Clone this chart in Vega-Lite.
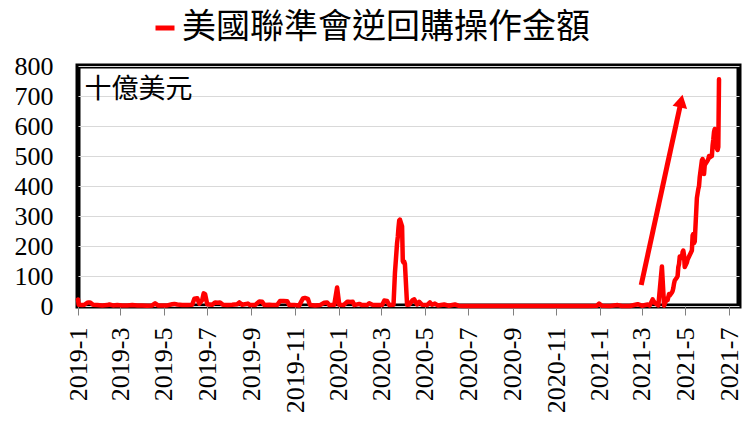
{
  "$schema": "https://vega.github.io/schema/vega-lite/v6.json",
  "width": 661,
  "height": 240,
  "autosize": {"type": "none"},
  "padding": {"left": 78, "top": 66, "right": 11, "bottom": 116},
  "background": "white",
  "config": {
    "view": {"stroke": "#000000", "strokeWidth": 5},
    "font": "Liberation Serif"
  },
  "datasets": {
    "rrp": [
      {"date": "2019-01-01", "value": 22}, {"date": "2019-01-02", "value": 4}, {"date": "2019-01-07", "value": 3}, {"date": "2019-01-10", "value": 4},
      {"date": "2019-01-14", "value": 11}, {"date": "2019-01-16", "value": 12}, {"date": "2019-01-18", "value": 12}, {"date": "2019-01-22", "value": 4},
      {"date": "2019-01-28", "value": 3}, {"date": "2019-02-04", "value": 2}, {"date": "2019-02-11", "value": 3}, {"date": "2019-02-14", "value": 5},
      {"date": "2019-02-19", "value": 2}, {"date": "2019-02-25", "value": 3}, {"date": "2019-03-04", "value": 2}, {"date": "2019-03-11", "value": 2},
      {"date": "2019-03-18", "value": 3}, {"date": "2019-03-25", "value": 2}, {"date": "2019-04-01", "value": 2}, {"date": "2019-04-08", "value": 1},
      {"date": "2019-04-15", "value": 2}, {"date": "2019-04-19", "value": 9}, {"date": "2019-04-23", "value": 2}, {"date": "2019-04-29", "value": 2},
      {"date": "2019-05-06", "value": 2}, {"date": "2019-05-13", "value": 6}, {"date": "2019-05-16", "value": 7}, {"date": "2019-05-20", "value": 5},
      {"date": "2019-05-27", "value": 3}, {"date": "2019-06-03", "value": 3}, {"date": "2019-06-10", "value": 4}, {"date": "2019-06-13", "value": 24},
      {"date": "2019-06-17", "value": 26}, {"date": "2019-06-20", "value": 8}, {"date": "2019-06-24", "value": 20}, {"date": "2019-06-26", "value": 42},
      {"date": "2019-06-28", "value": 40}, {"date": "2019-07-01", "value": 6}, {"date": "2019-07-08", "value": 4}, {"date": "2019-07-12", "value": 12},
      {"date": "2019-07-16", "value": 11}, {"date": "2019-07-19", "value": 12}, {"date": "2019-07-23", "value": 4}, {"date": "2019-07-29", "value": 3},
      {"date": "2019-08-05", "value": 4}, {"date": "2019-08-12", "value": 6}, {"date": "2019-08-15", "value": 12}, {"date": "2019-08-19", "value": 4},
      {"date": "2019-08-27", "value": 8}, {"date": "2019-08-30", "value": 3}, {"date": "2019-09-06", "value": 3}, {"date": "2019-09-12", "value": 15},
      {"date": "2019-09-16", "value": 14}, {"date": "2019-09-19", "value": 3}, {"date": "2019-09-26", "value": 4}, {"date": "2019-09-30", "value": 3},
      {"date": "2019-10-07", "value": 3}, {"date": "2019-10-11", "value": 17}, {"date": "2019-10-16", "value": 17}, {"date": "2019-10-21", "value": 16},
      {"date": "2019-10-24", "value": 3}, {"date": "2019-10-31", "value": 3}, {"date": "2019-11-07", "value": 2}, {"date": "2019-11-12", "value": 25},
      {"date": "2019-11-15", "value": 27}, {"date": "2019-11-19", "value": 24}, {"date": "2019-11-22", "value": 3}, {"date": "2019-11-29", "value": 2},
      {"date": "2019-12-06", "value": 3}, {"date": "2019-12-12", "value": 11}, {"date": "2019-12-16", "value": 12}, {"date": "2019-12-19", "value": 3},
      {"date": "2019-12-26", "value": 4}, {"date": "2019-12-30", "value": 62}, {"date": "2020-01-02", "value": 4}, {"date": "2020-01-08", "value": 3},
      {"date": "2020-01-13", "value": 14}, {"date": "2020-01-15", "value": 14}, {"date": "2020-01-17", "value": 13}, {"date": "2020-01-21", "value": 14},
      {"date": "2020-01-23", "value": 3}, {"date": "2020-01-30", "value": 7}, {"date": "2020-02-03", "value": 3}, {"date": "2020-02-10", "value": 3},
      {"date": "2020-02-13", "value": 9}, {"date": "2020-02-18", "value": 3}, {"date": "2020-02-25", "value": 3}, {"date": "2020-03-02", "value": 3},
      {"date": "2020-03-05", "value": 18}, {"date": "2020-03-09", "value": 17}, {"date": "2020-03-12", "value": 3}, {"date": "2020-03-18", "value": 4},
      {"date": "2020-03-20", "value": 110}, {"date": "2020-03-23", "value": 210}, {"date": "2020-03-24", "value": 230}, {"date": "2020-03-25", "value": 262},
      {"date": "2020-03-26", "value": 285}, {"date": "2020-03-27", "value": 288}, {"date": "2020-03-30", "value": 265}, {"date": "2020-03-31", "value": 150},
      {"date": "2020-04-01", "value": 145}, {"date": "2020-04-02", "value": 148}, {"date": "2020-04-03", "value": 140}, {"date": "2020-04-06", "value": 4},
      {"date": "2020-04-09", "value": 5}, {"date": "2020-04-14", "value": 20}, {"date": "2020-04-16", "value": 22}, {"date": "2020-04-20", "value": 5},
      {"date": "2020-04-23", "value": 14}, {"date": "2020-04-27", "value": 4}, {"date": "2020-05-04", "value": 3}, {"date": "2020-05-08", "value": 12},
      {"date": "2020-05-11", "value": 4}, {"date": "2020-05-15", "value": 8}, {"date": "2020-05-19", "value": 2}, {"date": "2020-05-28", "value": 5},
      {"date": "2020-06-03", "value": 1}, {"date": "2020-06-12", "value": 5}, {"date": "2020-06-17", "value": 1}, {"date": "2020-06-24", "value": 0},
      {"date": "2020-07-01", "value": 0}, {"date": "2020-07-15", "value": 0}, {"date": "2020-08-03", "value": 0}, {"date": "2020-08-17", "value": 0},
      {"date": "2020-09-01", "value": 0}, {"date": "2020-09-15", "value": 0}, {"date": "2020-10-01", "value": 0}, {"date": "2020-10-15", "value": 0},
      {"date": "2020-11-02", "value": 0}, {"date": "2020-11-16", "value": 0}, {"date": "2020-12-01", "value": 0}, {"date": "2020-12-15", "value": 0},
      {"date": "2020-12-28", "value": 1}, {"date": "2020-12-31", "value": 8}, {"date": "2021-01-04", "value": 1}, {"date": "2021-01-15", "value": 0},
      {"date": "2021-01-26", "value": 3}, {"date": "2021-02-01", "value": 0}, {"date": "2021-02-12", "value": 0}, {"date": "2021-02-23", "value": 6},
      {"date": "2021-03-01", "value": 1}, {"date": "2021-03-09", "value": 5}, {"date": "2021-03-12", "value": 2}, {"date": "2021-03-16", "value": 22},
      {"date": "2021-03-17", "value": 18}, {"date": "2021-03-19", "value": 10}, {"date": "2021-03-24", "value": 2}, {"date": "2021-03-29", "value": 132},
      {"date": "2021-04-01", "value": 1}, {"date": "2021-04-05", "value": 25}, {"date": "2021-04-06", "value": 20}, {"date": "2021-04-07", "value": 30},
      {"date": "2021-04-08", "value": 40}, {"date": "2021-04-09", "value": 35}, {"date": "2021-04-12", "value": 45}, {"date": "2021-04-13", "value": 50},
      {"date": "2021-04-14", "value": 60}, {"date": "2021-04-15", "value": 75}, {"date": "2021-04-16", "value": 85}, {"date": "2021-04-19", "value": 95},
      {"date": "2021-04-20", "value": 100}, {"date": "2021-04-21", "value": 130}, {"date": "2021-04-22", "value": 140}, {"date": "2021-04-23", "value": 165},
      {"date": "2021-04-26", "value": 160}, {"date": "2021-04-27", "value": 180}, {"date": "2021-04-28", "value": 185}, {"date": "2021-04-29", "value": 170},
      {"date": "2021-04-30", "value": 130}, {"date": "2021-05-03", "value": 145}, {"date": "2021-05-04", "value": 155}, {"date": "2021-05-05", "value": 160},
      {"date": "2021-05-06", "value": 165}, {"date": "2021-05-07", "value": 170}, {"date": "2021-05-10", "value": 185}, {"date": "2021-05-11", "value": 235},
      {"date": "2021-05-12", "value": 240}, {"date": "2021-05-13", "value": 210}, {"date": "2021-05-14", "value": 215}, {"date": "2021-05-17", "value": 360},
      {"date": "2021-05-18", "value": 375}, {"date": "2021-05-19", "value": 390}, {"date": "2021-05-20", "value": 400}, {"date": "2021-05-21", "value": 430},
      {"date": "2021-05-24", "value": 485}, {"date": "2021-05-25", "value": 490}, {"date": "2021-05-26", "value": 480}, {"date": "2021-05-27", "value": 440},
      {"date": "2021-05-28", "value": 470}, {"date": "2021-06-01", "value": 485}, {"date": "2021-06-02", "value": 490}, {"date": "2021-06-03", "value": 500},
      {"date": "2021-06-04", "value": 495}, {"date": "2021-06-07", "value": 500}, {"date": "2021-06-08", "value": 535}, {"date": "2021-06-09", "value": 555},
      {"date": "2021-06-10", "value": 580}, {"date": "2021-06-11", "value": 590}, {"date": "2021-06-14", "value": 525}, {"date": "2021-06-15", "value": 520},
      {"date": "2021-06-16", "value": 530}, {"date": "2021-06-17", "value": 756}
    ],
    "arrow": [
      {"date": "2021-02-28", "value": 70, "end": "2021-04-25", "v1": 683}
    ],
    "head": [
      {"date": "2021-04-25", "value": 683}
    ],
    "note": [
      {"date": "2019-01-10", "value": 720, "label": "十億美元"}
    ]
  },
  "encoding": {
    "x": {
      "field": "date", "type": "temporal",
      "scale": {"type": "utc", "domain": ["2019-01-01", "2021-07-15"]},
      "axis": {
        "title": null,
        "labelExpr": "utcFormat(datum.value, '%Y-%-m')",
        "tickCount": {"interval": "month", "step": 2},
        "labelAngle": -90, "labelAlign": "right", "labelBaseline": "middle",
        "labelFont": "Liberation Serif", "labelFontSize": 26, "labelColor": "#000000",
        "labelPadding": 12, "tickSize": 9, "tickColor": "#808080", "tickWidth": 1,
        "domain": false, "grid": false, "labelOverlap": false, "labelFlush": false, "labelBound": false
      }
    },
    "y": {
      "field": "value", "type": "quantitative",
      "scale": {"domain": [0, 800], "nice": false, "zero": true},
      "axis": {
        "title": null, "values": [0, 100, 200, 300, 400, 500, 600, 700, 800],
        "labelFont": "Liberation Serif", "labelFontSize": 26, "labelColor": "#000000",
        "ticks": false, "labelPadding": 25, "domain": false,
        "grid": true, "gridColor": "#d9d9d9", "gridWidth": 1,
        "labelOverlap": false, "labelFlush": false, "labelBound": false
      }
    }
  },
  "layer": [
    {
      "data": {"name": "rrp"},
      "mark": {"type": "line", "strokeWidth": 4.5, "strokeJoin": "round", "strokeCap": "round", "interpolate": "linear"},
      "encoding": {
        "color": {
          "datum": "美國聯準會逆回購操作金額",
          "type": "nominal",
          "scale": {"range": ["#ff0000"]},
          "legend": {
            "orient": "none", "legendX": 70, "legendY": -55, "title": null,
            "symbolType": "stroke", "symbolSize": 361, "symbolStrokeWidth": 5,
            "labelFont": "Noto Sans CJK TC", "labelFontSize": 34, "labelColor": "#000000",
            "labelOffset": 0, "padding": 0, "labelLimit": 800
          }
        }
      }
    },
    {
      "data": {"name": "arrow"},
      "mark": {"type": "rule", "color": "#ff0000", "strokeWidth": 5},
      "encoding": {
        "x2": {"field": "end"},
        "y2": {"field": "v1"}
      }
    },
    {
      "data": {"name": "head"},
      "mark": {"type": "point", "shape": "triangle-up", "angle": 12, "size": 220, "filled": true, "color": "#ff0000", "opacity": 1}
    },
    {
      "data": {"name": "note"},
      "mark": {"type": "text", "font": "Noto Sans CJK TC", "fontSize": 27, "align": "left", "baseline": "middle", "color": "#000000"},
      "encoding": {
        "text": {"field": "label"}
      }
    }
  ]
}
